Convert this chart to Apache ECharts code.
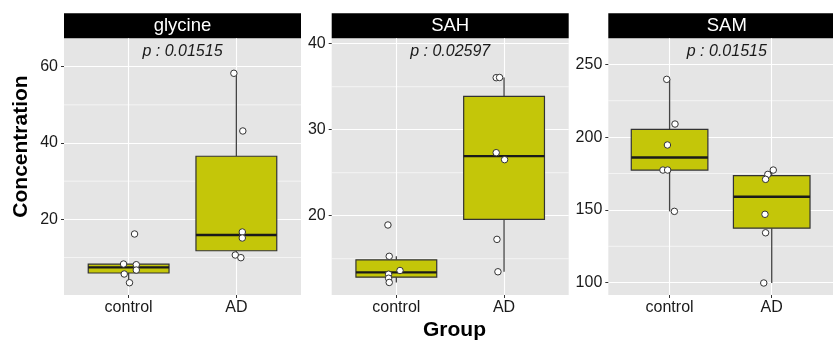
<!DOCTYPE html>
<html><head><meta charset="utf-8">
<script src="https://cdn.jsdelivr.net/npm/echarts@6/dist/echarts.min.js"></script>
<style>html,body{margin:0;padding:0;background:#fff}#c{width:833px;height:343px}</style>
</head><body><div id="c"></div>
<script>
// ---------- data ----------
const panels = ['glycine', 'SAH', 'SAM'];
const groups = ['control', 'AD'];
const pValues = ['0.01515', '0.02597', '0.01515'];

const glycineControl = [16.15, 8.28, 8.1, 6.7, 5.66, 3.38];
const glycineAD      = [58.27, 43.15, 16.67, 15.1, 10.64, 9.94];
const sahControl     = [18.92, 15.28, 13.63, 13.2, 12.73, 12.24];
const sahAD          = [36.05, 36.07, 27.33, 26.52, 17.25, 13.48];
const samControl     = [239.7, 209.0, 194.6, 177.4, 177.4, 149.0];
const samAD          = [177.4, 174.4, 171.0, 147.0, 134.3, 99.8];

// horizontal jitter of the points (category units)
const glycineControlJitter = [0.055, -0.047, 0.071, 0.071, -0.041, 0.008];
const glycineADJitter      = [-0.023, 0.06, 0.055, 0.055, -0.01, 0.042];
const sahControlJitter     = [-0.078, -0.066, 0.034, -0.072, -0.072, -0.066];
const sahADJitter          = [-0.073, -0.042, -0.073, 0.005, -0.066, -0.057];
const samControlJitter     = [-0.028, 0.053, -0.021, -0.065, -0.019, 0.047];
const samADJitter          = [0.015, -0.038, -0.06, -0.066, -0.06, -0.078];

const yRanges     = [[0.16, 67.44], [10.78, 40.63], [91.55, 267.9]];
const yMajorTicks = [[20, 40, 60], [20, 30, 40], [100, 150, 200, 250]];
const yMinorTicks = [[10, 30, 50], [15, 25, 35], [125, 175, 225]];

const panelData = [
  [glycineControl, glycineAD], [sahControl, sahAD], [samControl, samAD]
];
const panelJitter = [
  [glycineControlJitter, glycineADJitter], [sahControlJitter, sahADJitter], [samControlJitter, samADJitter]
];

// ---------- helpers ----------
function quantile7(sorted, p) {
  const h = (sorted.length - 1) * p;
  const lo = Math.floor(h), hi = Math.ceil(h);
  return sorted[lo] + (h - lo) * (sorted[hi] - sorted[lo]);
}
function boxStats(vals) {
  const s = vals.slice().sort((a, b) => a - b);
  const q1 = quantile7(s, 0.25), med = quantile7(s, 0.5), q3 = quantile7(s, 0.75);
  const iqr = q3 - q1;
  const lo = Math.min(...s.filter(v => v >= q1 - 1.5 * iqr));
  const hi = Math.max(...s.filter(v => v <= q3 + 1.5 * iqr));
  return [lo, q1, med, q3, hi];
}

// ---------- layout ----------
const FONT = 'Liberation Sans, Arial, sans-serif';
const gridLefts = [64, 331.7, 608.3];
const gridW = 237, gridTop = 38.3, gridH = 256.7;
const stripTop = 13.3;

const chart = echarts.init(document.getElementById('c'), null, {renderer: 'canvas'});

const grids = [], xAxes = [], yAxes = [], series = [], graphics = [];
panels.forEach((name, i) => {
  grids.push({left: gridLefts[i], top: gridTop, width: gridW, height: gridH,
    show: true, backgroundColor: '#E5E5E5', borderWidth: 0, containLabel: false});
  xAxes.push({
    type: 'value', gridIndex: i, min: 0.4, max: 2.6,
    axisLine: {show: false},
    axisTick: {show: true, customValues: [1, 2], length: 3, lineStyle: {color: '#333', width: 1}},
    axisLabel: {show: true, customValues: [1, 2], margin: 5, fontSize: 16, color: '#1a1a1a', fontFamily: FONT,
      formatter: v => groups[Math.round(v) - 1] || ''},
    splitLine: {show: true, lineStyle: {color: '#ffffff', width: 1.1}}
  });
  yAxes.push({
    type: 'value', gridIndex: i, min: yRanges[i][0], max: yRanges[i][1],
    axisLine: {show: false},
    axisTick: {show: true, customValues: yMajorTicks[i], length: 3, lineStyle: {color: '#333', width: 1}},
    axisLabel: {show: true, customValues: yMajorTicks[i], margin: 6, fontSize: 16, color: '#1a1a1a', fontFamily: FONT},
    splitLine: {show: true, lineStyle: {color: '#ffffff', width: 1.1}}
  });
  // minor grid lines
  series.push({
    type: 'custom', xAxisIndex: i, yAxisIndex: i, z: 1, silent: true,
    data: yMinorTicks[i].map(v => [v]),
    renderItem: (params, api) => {
      const v = api.value(0);
      const a = api.coord([0.4, v]), b = api.coord([2.6, v]);
      return {type: 'line', shape: {x1: a[0], y1: a[1], x2: b[0], y2: b[1]},
        style: {stroke: '#ffffff', lineWidth: 0.6}};
    }
  });
  // boxes
  series.push({
    type: 'custom', xAxisIndex: i, yAxisIndex: i, z: 3, silent: true,
    data: panelData[i].map((vals, g) => [g + 1].concat(boxStats(vals))),
    renderItem: (params, api) => {
      const x = api.value(0);
      const lo = api.value(1), q1 = api.value(2), med = api.value(3), q3 = api.value(4), hi = api.value(5);
      const pL = api.coord([x - 0.375, q3]), pR = api.coord([x + 0.375, q1]);
      const pc = api.coord([x, med]);
      const pLo = api.coord([x, lo]), pHi = api.coord([x, hi]);
      const cx = pc[0];
      return {type: 'group', children: [
        {type: 'line', shape: {x1: cx, y1: pHi[1], x2: cx, y2: pL[1]}, style: {stroke: '#444', lineWidth: 1.3}},
        {type: 'line', shape: {x1: cx, y1: pR[1], x2: cx, y2: pLo[1]}, style: {stroke: '#444', lineWidth: 1.3}},
        {type: 'rect', shape: {x: pL[0], y: pL[1], width: pR[0] - pL[0], height: pR[1] - pL[1]},
          style: {fill: '#C4C609', stroke: '#333', lineWidth: 1.2}},
        {type: 'line', shape: {x1: pL[0], y1: pc[1], x2: pR[0], y2: pc[1]}, style: {stroke: '#1a1a1a', lineWidth: 2.4}}
      ]};
    }
  });
  // points
  const pts = [];
  panelData[i].forEach((vals, g) => vals.forEach((v, k) => pts.push([g + 1 + panelJitter[i][g][k], v])));
  series.push({
    type: 'scatter', xAxisIndex: i, yAxisIndex: i, z: 4, silent: true,
    symbol: 'circle', symbolSize: 6.5,
    itemStyle: {color: '#ffffff', borderColor: '#333', borderWidth: 1, opacity: 1},
    data: pts
  });
  // strip
  graphics.push({type: 'rect', shape: {x: gridLefts[i], y: stripTop, width: gridW, height: gridTop - stripTop},
    style: {fill: '#000'}});
  graphics.push({type: 'text', x: gridLefts[i] + gridW / 2, y: (stripTop + gridTop) / 2 + 0.5,
    style: {text: name, fill: '#fff', font: '18.5px ' + FONT, textAlign: 'center', textVerticalAlign: 'middle'}});
  graphics.push({type: 'text', x: gridLefts[i] + gridW / 2, y: 51.5, z: 10,
    style: {text: 'p : ' + pValues[i], fill: '#1a1a1a', font: 'italic 16px ' + FONT, textAlign: 'center', textVerticalAlign: 'middle'}});
});

graphics.push({type: 'text', x: 20.8, y: 146.5, rotation: Math.PI / 2,
  style: {text: 'Concentration', fill: '#000', font: 'bold 21px ' + FONT, textAlign: 'center', textVerticalAlign: 'middle'}});
graphics.push({type: 'text', x: 454.5, y: 330, 
  style: {text: 'Group', fill: '#000', font: 'bold 21px ' + FONT, textAlign: 'center', textVerticalAlign: 'middle'}});

chart.setOption({
  animation: false,
  backgroundColor: '#ffffff',
  grid: grids, xAxis: xAxes, yAxis: yAxes, series: series, graphic: graphics
});
</script>
</body></html>
